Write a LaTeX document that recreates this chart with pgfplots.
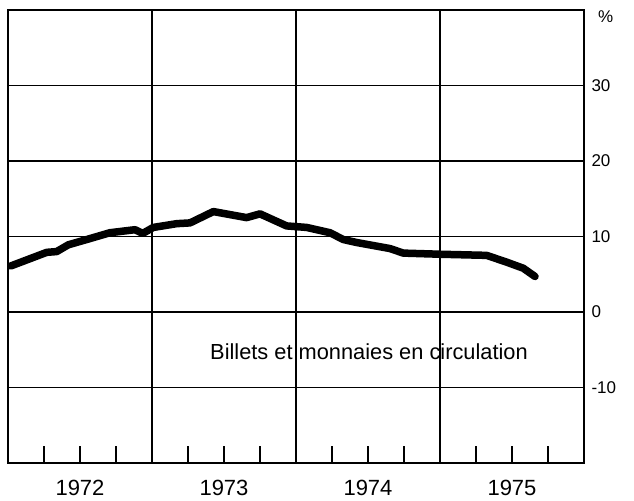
\documentclass[border=0pt]{standalone}
\usepackage{fontspec}
\setmainfont{Liberation Sans}
\usepackage{pgfplots}
\pgfplotsset{compat=1.18}
\begin{document}
\begin{tikzpicture}
\begin{axis}[
  scale only axis,
  width=576pt, height=453pt,
  xmin=0, xmax=4, ymin=-20, ymax=40,
  axis line style={line width=2.4pt},
  xtick={0.5,1.5,2.5,3.5},
  xticklabels={1972,1973,1974,1975},
  xticklabel style={font=\fontsize{22}{24}\selectfont, yshift=-14pt},
  minor xtick={0.25,0.5,0.75,1.25,1.5,1.75,2.25,2.5,2.75,3.25,3.5,3.75},
  xtick pos=bottom,
  major tick length=0pt,
  minor tick length=17pt,
  minor tick style={line width=1.1pt, black},
  extra x ticks={1,2,3},
  extra x tick labels={},
  extra x tick style={grid=major, major tick length=0pt},
  ytick={-10,0,10,20,30},
  yticklabels={-10,0,10,20,30},
  ytick pos=right,
  yticklabel pos=right,
  yticklabel style={font=\fontsize{17}{20}\selectfont, anchor=west, xshift=4pt},
  ymajorgrids,
  grid style={line width=1.1pt, black},
  clip=false,
]
\addplot[black, line width=7.5pt, line join=round, line cap=round] coordinates {
(0.02,6.1)(0.269,7.9)(0.338,8.0)(0.419,8.9)(0.547,9.6)(0.708,10.5)(0.882,10.9)(0.935,10.4)
(1.009,11.2)(1.172,11.7)(1.264,11.8)(1.426,13.3)(1.657,12.5)(1.750,13.0)(1.935,11.4)
(2.074,11.2)(2.236,10.5)(2.328,9.6)(2.422,9.2)(2.653,8.4)(2.745,7.8)(3.0,7.65)
(3.324,7.5)(3.463,6.6)(3.578,5.8)(3.660,4.7)
};
\node[font=\fontsize{21.8}{24}\selectfont, anchor=base west, inner sep=0pt] at (axis cs:1.403,-6.3) {Billets et monnaies en circulation};
\node[font=\fontsize{17}{20}\selectfont, anchor=north west, inner sep=0pt] at ([xshift=14pt,yshift=-1pt]rel axis cs:1,1) {\%};
\end{axis}
\path ([xshift=-8pt,yshift=-38pt]current axis.south west) rectangle ([xshift=50pt,yshift=10pt]current axis.north east);
\end{tikzpicture}
\end{document}
